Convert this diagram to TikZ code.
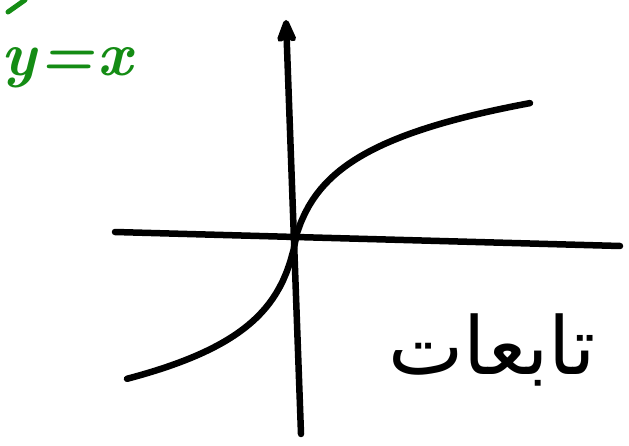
\documentclass[tikz,border=0pt]{standalone}
\usepackage{fontspec}
\usetikzlibrary{arrows.meta}
\TeXXeTstate=1
\newfontfamily\arabicfont[Script=Arabic]{DejaVu Sans}
\definecolor{penGreen}{RGB}{20,140,20}
\begin{document}
\begin{tikzpicture}[x=1pt,y=-1pt,line join=round,line cap=round,line width=6.5pt]
	\useasboundingbox (0,0) rectangle (629,446);
	\coordinate (xL) at (115,232);
	\coordinate (xR) at (620,246);
	\coordinate (yB) at (301,434);
	\coordinate (yT) at (286,20);
	\draw (xL) -- (xR);
	\draw[-{Stealth[length=30pt,width=24pt,inset=7pt,round]}] (yB) -- (yT);
	% the curve, two log-shaped branches meeting at the origin
	\draw plot[domain=127:297,samples=50] (\x,{233+47*ln(1+(297-\x)/8)})
		-- plot[domain=297:530,samples=60] (\x,{233-46.3*ln(1+(\x-297)/15)});
	\draw[penGreen,line width=5pt] (8,12) -- (25,0);
	\node[penGreen,anchor=base west,font=\fontsize{62}{62}\selectfont\bfseries] (eq) at (-5,76) {\itshape y\kern3pt=\kern3pt x};
	\node[font=\fontsize{80}{80}\arabicfont] (lbl) at (492,350) {\beginR تابعات\endR};
\end{tikzpicture}
\end{document}
